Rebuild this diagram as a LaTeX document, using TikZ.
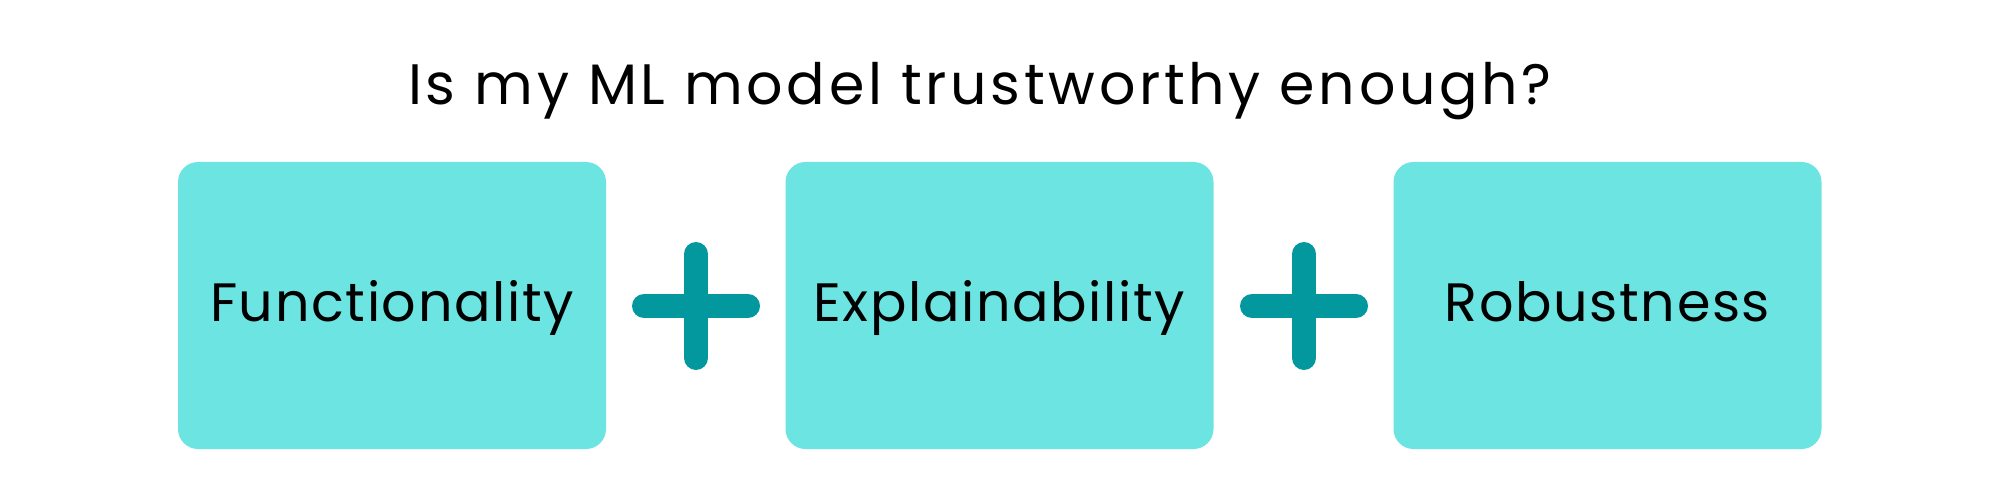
\documentclass[tikz,border=0pt]{standalone}
\usepackage{fontspec}
\setmainfont{Poppins}
\newfontfamily\titlefont[LetterSpace=6.5]{Poppins}
\newfontfamily\cardfont[LetterSpace=3]{Poppins}
\definecolor{boxfill}{HTML}{6BE4E2}
\definecolor{plusc}{HTML}{03989E}
\begin{document}
\begin{tikzpicture}[x=1pt,y=-1pt,
  card/.style={fill=boxfill, rounded corners=20pt, minimum width=428pt, minimum height=287pt, inner sep=0pt, draw=none},
  lbl/.style={font=\cardfont\fontsize{54}{60}\selectfont, anchor=base, inner sep=0pt},
  plusarm/.style={draw=plusc, line width=24pt, line cap=round}]
\useasboundingbox (0,0) rectangle (2000,500);
\node[lbl, font=\titlefont\fontsize{57}{64}\selectfont] (title) at (980,105) {Is my ML model trustworthy enough?};
\node[card] (b1) at (392,305.5) {};
\node[card] (b2) at (999.5,305.5) {};
\node[card] (b3) at (1607.5,305.5) {};
\node[lbl] (t1) at (392,321) {Functionality};
\node[lbl] (t2) at (999.5,321) {Explainability};
\node[lbl] (t3) at (1607.5,321) {Robustness};
\foreach \n/\cx in {p1/696, p2/1304} {
  \coordinate (\n) at (\cx,306);
  \draw[plusarm] ([xshift=-52pt]\n) -- ([xshift=52pt]\n);
  \draw[plusarm] ([yshift=-52pt]\n) -- ([yshift=52pt]\n);
}
\end{tikzpicture}
\end{document}
